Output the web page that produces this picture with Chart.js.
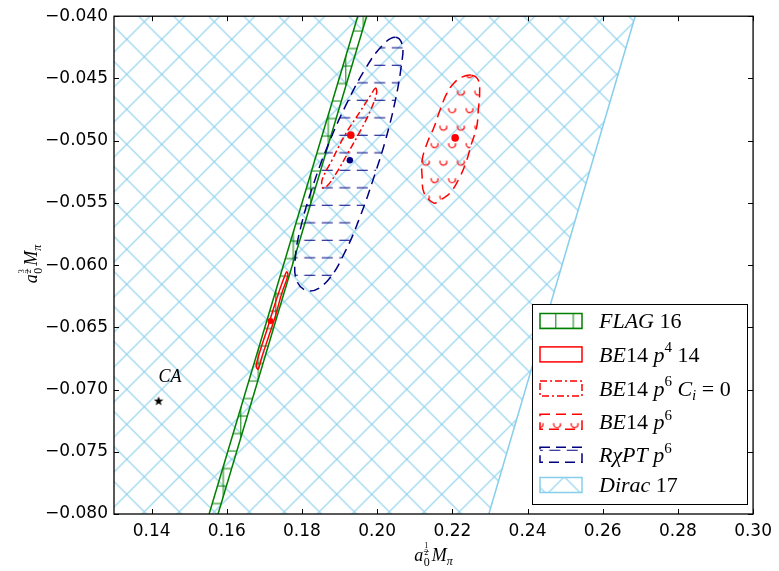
<!DOCTYPE html>
<html><head><meta charset="utf-8">
<script src="https://cdn.jsdelivr.net/npm/chart.js@4.4.1/dist/chart.umd.min.js"></script>
<style>html,body{margin:0;padding:0;background:#fff;}</style>
</head><body>
<canvas id="c" width="779" height="571"></canvas>
<script>
// ---------------- data ----------------
const xTicks = [0.14, 0.16, 0.18, 0.20, 0.22, 0.24, 0.26, 0.28, 0.30];
const yTicks = [-0.080, -0.075, -0.070, -0.065, -0.060, -0.055, -0.050, -0.045, -0.040];

// Dirac 17: right-hand boundary of the hatched region (region extends to the left)
const diracEdgeX = [0.22971, 0.26864];
const diracEdgeY = [-0.080, -0.040];

// FLAG 16 band edges
const flagLeftX  = [0.15530, 0.19484];
const flagRightX = [0.15768, 0.19721];
const flagY      = [-0.080, -0.040];

// R chi PT p^6 contour
const rxptX = [0.20485,0.20670,0.20644,0.20485,0.20222,0.19932,0.19563,0.19168,0.18693,0.18219,0.17876,0.17823,0.17982,0.18298,0.18693,0.19168,0.19695,0.20143];
const rxptY = [-0.04169,-0.04233,-0.04394,-0.04675,-0.04996,-0.05277,-0.05598,-0.05880,-0.06121,-0.06209,-0.06137,-0.05944,-0.05679,-0.05357,-0.05036,-0.04715,-0.04418,-0.04233];

// BE14 p^6 C_i=0 contour
const be6c0X = [0.19958,0.19985,0.19827,0.19563,0.19220,0.18930,0.18693,0.18561,0.18535,0.18799,0.19141,0.19537,0.19827];
const be6c0Y = [-0.04578,-0.04618,-0.04755,-0.04916,-0.05100,-0.05253,-0.05357,-0.05381,-0.05317,-0.05157,-0.04956,-0.04771,-0.04635];

// BE14 p^6 contour
const be6X = [0.22515,0.22691,0.22726,0.22691,0.22647,0.22515,0.22383,0.22199,0.21935,0.21671,0.21513,0.21250,0.21197,0.21197,0.21329,0.21513,0.21671,0.21856,0.22040,0.22251];
const be6Y = [-0.04474,-0.04514,-0.04618,-0.04755,-0.04892,-0.05020,-0.05157,-0.05293,-0.05422,-0.05478,-0.05502,-0.05422,-0.05293,-0.05157,-0.05020,-0.04892,-0.04755,-0.04618,-0.04538,-0.04490];

// BE14 p^4 14 contour
const be4X = [0.17594,0.17626,0.17462,0.17288,0.17112,0.16935,0.16835,0.16782,0.16893,0.17067,0.17244,0.17420,0.17552];
const be4Y = [-0.06054,-0.06080,-0.06227,-0.06415,-0.06576,-0.06737,-0.06835,-0.06811,-0.06683,-0.06522,-0.06348,-0.06187,-0.06080];

// central values
const redCenterX = [0.17164, 0.19299, 0.22075];
const redCenterY = [-0.06450, -0.04956, -0.04978];
const navyCenterX = [0.19273];
const navyCenterY = [-0.05157];
const caX = [0.14186];
const caY = [-0.07090];
const caLabel = 'CA';

const legendLabels = [
  [['FLAG','i'],[' 16','r']],
  [['BE','i'],['14','r'],[' ','r'],['p','i'],['4','sup'],[' 14','r']],
  [['BE','i'],['14','r'],[' ','r'],['p','i'],['6','sup'],[' ','r'],['C','i'],['i','subi'],[' = 0','r']],
  [['BE','i'],['14','r'],[' ','r'],['p','i'],['6','sup']],
  [['R\u03c7PT','i'],[' ','r'],['p','i'],['6','sup']],
  [['Dirac','i'],[' 17','r']]
];
const xTitleFrac = ['1','2'];
const yTitleFrac = ['3','2'];

// ---------------- styling helpers ----------------
const canvas = document.getElementById('c');
const ctxMain = canvas.getContext('2d');
const SKY = '#87ceeb', GREEN = '#008000', RED = '#ff0000', NAVY = '#000080';
const SERIF = '"Liberation Serif", "DejaVu Serif", serif';

function tile(draw){ const c=document.createElement('canvas'); c.width=35; c.height=35; const g=c.getContext('2d'); draw(g); return c; }
function pat(c, tx, ty){ const p = ctxMain.createPattern(c,'repeat'); if (p.setTransform) p.setTransform(new DOMMatrix().translate(tx,ty)); return p; }

const diracPat = pat(tile(g=>{ g.strokeStyle=SKY; g.lineWidth=1.1; g.beginPath();
  for (const k of [-35,0,35]) { g.moveTo(k-5,-5); g.lineTo(k+40,40); g.moveTo(k+40,-5); g.lineTo(k-5,40); } g.stroke(); }), 21.7, 4.3);
const flagPat = pat(tile(g=>{ g.strokeStyle=GREEN; g.lineWidth=1; g.beginPath();
  for (const v of [0,17.5,35]) { g.moveTo(0,v); g.lineTo(35,v); g.moveTo(v,0); g.lineTo(v,35); } g.stroke(); }), 13.3, 13.5);
const rxptPat = pat(tile(g=>{ g.strokeStyle=NAVY; g.lineWidth=1.2; g.beginPath();
  for (const v of [0,17.5,35]) { g.moveTo(0,v); g.lineTo(11,v); g.moveTo(17.5,v); g.lineTo(28.5,v); } g.stroke(); }), 6.7, 12.7);
const circPat = pat(tile(g=>{ g.strokeStyle=RED; g.lineWidth=1.2;
  const cs=[[0,0],[17.5,0],[35,0],[0,35],[17.5,35],[35,35],[8.75,17.5],[26.25,17.5]];
  for (const [cx,cy] of cs) { g.beginPath(); g.arc(cx,cy,3.4,-0.35,Math.PI+0.35); g.stroke(); } }), 14.55, 4.2);

const starImg = document.createElement('canvas'); starImg.width=12; starImg.height=12;
(function(){ const g=starImg.getContext('2d'); g.fillStyle='#000'; g.beginPath();
  for (let i=0;i<10;i++){ const r = i%2? 2.1:5; const a=-Math.PI/2+i*Math.PI/5; const px=6+r*Math.cos(a), py=6.4+r*Math.sin(a); i?g.lineTo(px,py):g.moveTo(px,py);} g.closePath(); g.fill(); })();

const zip = (xs,ys)=>xs.map((x,i)=>({x, y:ys[i]}));
const shape = (o)=>Object.assign({showLine:true, pointRadius:0, pointHitRadius:0, tension:0, clip:0, fill:false}, o);

const datasets = [
  shape({label:'Dirac 17 fill', data:[{x:diracEdgeX[0],y:diracEdgeY[0]},{x:diracEdgeX[1],y:diracEdgeY[1]},{x:0.13,y:-0.040},{x:0.13,y:-0.080}],
         fill:'shape', backgroundColor:diracPat, borderWidth:0, order:20}),
  shape({label:'Dirac 17', data:zip(diracEdgeX,diracEdgeY), borderColor:SKY, borderWidth:1.5, order:19}),
  shape({label:'FLAG 16 fill', data:[{x:flagLeftX[0],y:flagY[0]},{x:flagLeftX[1],y:flagY[1]},{x:flagRightX[1],y:flagY[1]},{x:flagRightX[0],y:flagY[0]}],
         fill:'shape', backgroundColor:flagPat, borderWidth:0, order:18}),
  shape({label:'FLAG 16 L', data:zip(flagLeftX,flagY), borderColor:GREEN, borderWidth:1.5, order:17}),
  shape({label:'FLAG 16 R', data:zip(flagRightX,flagY), borderColor:GREEN, borderWidth:1.5, order:16}),
  shape({label:'RchiPT p6', data:zip(rxptX,rxptY), closed:true, tension:0.4, fill:'shape', backgroundColor:rxptPat,
         borderColor:NAVY, borderWidth:1.5, borderDash:[10,6], order:15}),
  shape({label:'BE14 p6', data:zip(be6X,be6Y), closed:true, tension:0.4, fill:'shape', backgroundColor:circPat,
         borderColor:RED, borderWidth:1.5, borderDash:[10,6], order:14}),
  shape({label:'BE14 p6 Ci=0', data:zip(be6c0X,be6c0Y), closed:true, tension:0.4,
         borderColor:RED, borderWidth:1.5, borderDash:[7,3,2,3], order:13}),
  shape({label:'BE14 p4 14', data:zip(be4X,be4Y), closed:true, tension:0.4,
         borderColor:RED, borderWidth:1.5, order:12}),
  {label:'red centres', data:zip(redCenterX,redCenterY), showLine:false, pointRadius:[3,3.8,3.8], pointBackgroundColor:RED, pointBorderWidth:0, order:3},
  {label:'navy centre', data:zip(navyCenterX,navyCenterY), showLine:false, pointRadius:3.2, pointBackgroundColor:NAVY, pointBorderWidth:0, order:2},
  {label:'CA', data:zip(caX,caY), showLine:false, pointStyle:starImg, pointRadius:5, order:1}
];

const loopPlugin = { id:'loopShapes', afterDatasetsUpdate(chart){
  chart.data.datasets.forEach((ds,i)=>{ if (!ds.closed) return; const el = chart.getDatasetMeta(i).dataset;
    if (el) { el._loop = true; el._fullLoop = true; delete el._segments; el._pointsUpdated = false; el._path = undefined; } });
}};

function drawFrags(ctx, x, y, frags, S){
  for (const [t,k] of frags){
    let size=S, dy=0, it=(k==='i');
    if (k==='sup'){ size=Math.round(S*0.7); dy=-S*0.42; }
    if (k==='subi'){ size=Math.round(S*0.7); dy=S*0.2; it=true; }
    ctx.font=(it?'italic ':'')+size+'px '+SERIF;
    ctx.fillText(t,x,y+dy);
    x+=ctx.measureText(t).width;
  }
  return x;
}

function axisTitle(ctx, x, y, S, frac, dry){
  const x0 = x;
  ctx.font='italic '+S+'px '+SERIF; if(!dry) ctx.fillText('a',x,y); x+=ctx.measureText('a').width+0.5;
  const ss=Math.round(S*0.65), fs=Math.round(S*0.45);
  ctx.font=ss+'px '+SERIF; const w0=ctx.measureText('0').width; if(!dry) ctx.fillText('0',x,y+S*0.25);
  ctx.font=fs+'px '+SERIF; const wf=Math.max(ctx.measureText(frac[0]).width, ctx.measureText(frac[1]).width)+1;
  if(!dry){ ctx.textAlign='center'; ctx.fillText(frac[0],x+wf/2,y-S*0.72); ctx.fillText(frac[1],x+wf/2,y-S*0.34);
    ctx.textAlign='left'; ctx.fillRect(x, y-S*0.55, wf, 0.6); }
  x+=Math.max(w0,wf)+2;
  ctx.font='italic '+S+'px '+SERIF; if(!dry) ctx.fillText('M',x,y); x+=ctx.measureText('M').width;
  ctx.font='italic '+ss+'px '+SERIF; if(!dry) ctx.fillText('\u03c0',x,y+S*0.22); x+=ctx.measureText('\u03c0').width;
  return x-x0;
}

const decorPlugin = { id:'decor', afterDraw(chart){
  const ctx=chart.ctx, a=chart.chartArea, xs=chart.scales.x, ys=chart.scales.y;
  ctx.save();
  // CA label
  ctx.fillStyle='#000'; ctx.textBaseline='alphabetic'; ctx.textAlign='left';
  ctx.font='italic 18px '+SERIF;
  ctx.fillText(caLabel, xs.getPixelForValue(caX[0]), ys.getPixelForValue(caY[0])-19);
  // ticks (inside, all four sides)
  ctx.strokeStyle='#000'; ctx.lineWidth=1; ctx.beginPath();
  for (const v of xTicks){ const p=Math.round(xs.getPixelForValue(v))+0.5; ctx.moveTo(p,a.bottom); ctx.lineTo(p,a.bottom-5); ctx.moveTo(p,a.top); ctx.lineTo(p,a.top+5); }
  for (const v of yTicks){ const p=Math.round(ys.getPixelForValue(v))+0.5; ctx.moveTo(a.left,p); ctx.lineTo(a.left+5,p); ctx.moveTo(a.right,p); ctx.lineTo(a.right-5,p); }
  ctx.stroke();
  ctx.lineWidth=1.3; ctx.strokeRect(a.left, a.top, a.right-a.left, a.bottom-a.top);
  // axis titles
  ctx.fillStyle='#000';
  const S=18;
  let w=axisTitle(ctx,0,0,S,xTitleFrac,true);
  axisTitle(ctx,(a.left+a.right)/2-w/2,561,S,xTitleFrac,false);
  w=axisTitle(ctx,0,0,S,yTitleFrac,true);
  ctx.save(); ctx.translate(37,264); ctx.rotate(-Math.PI/2);
  axisTitle(ctx,-w/2,0,S,yTitleFrac,false); ctx.restore();
  // legend
  const L={x:532,y:304,w:215,h:200};
  ctx.fillStyle='#fff'; ctx.fillRect(L.x,L.y,L.w,L.h);
  ctx.strokeStyle='#000'; ctx.lineWidth=1; ctx.strokeRect(L.x+0.5,L.y+0.5,L.w,L.h);
  const rows=[321,354.4,388.4,421.8,454.8,485];
  const sw=[
    {fill:flagPat, stroke:GREEN, dash:[]},
    {fill:null, stroke:RED, dash:[]},
    {fill:null, stroke:RED, dash:[7,3,2,3]},
    {fill:circPat, stroke:RED, dash:[10,6]},
    {fill:rxptPat, stroke:NAVY, dash:[10,6]},
    {fill:diracPat, stroke:SKY, dash:[]}
  ];
  rows.forEach((cy,i)=>{
    const rx=540, ry=cy-7.5, rw=42, rh=15;
    if (sw[i].fill){ ctx.fillStyle=sw[i].fill; ctx.fillRect(rx,ry,rw,rh); }
    ctx.strokeStyle=sw[i].stroke; ctx.lineWidth=1.5; ctx.setLineDash(sw[i].dash); ctx.strokeRect(rx,ry,rw,rh); ctx.setLineDash([]);
    ctx.fillStyle='#000';
    drawFrags(ctx,599,cy+7.3,legendLabels[i],22);
  });
  ctx.restore();
}};

new Chart(ctxMain, {
  type:'scatter',
  data:{datasets},
  options:{
    responsive:false, animation:false, devicePixelRatio:1,
    layout:{padding:{left:0,right:20,top:16,bottom:0}},
    plugins:{legend:{display:false}, tooltip:{enabled:false}},
    events:[],
    scales:{
      x:{type:'linear', min:0.13, max:0.30,
         grid:{display:false, drawTicks:false}, border:{display:false},
         afterBuildTicks:s=>{ s.ticks = xTicks.map(v=>({value:v})); },
         afterFit:s=>{ s.height=57; },
         ticks:{padding:7, autoSkip:false, maxRotation:0, color:'#000', font:{family:'DejaVu Sans', size:17},
                callback:v=>Number(v).toFixed(2)}},
      y:{type:'linear', min:-0.080, max:-0.040,
         grid:{display:false, drawTicks:false}, border:{display:false},
         afterBuildTicks:s=>{ s.ticks = yTicks.map(v=>({value:v})); },
         afterFit:s=>{ s.width=114; },
         ticks:{padding:6, autoSkip:false, color:'#000', font:{family:'DejaVu Sans', size:17},
                callback:v=>(v<0?'\u2212':'')+Math.abs(Number(v)).toFixed(3)}}
    }
  },
  plugins:[loopPlugin, decorPlugin]
});
</script>
</body></html>
